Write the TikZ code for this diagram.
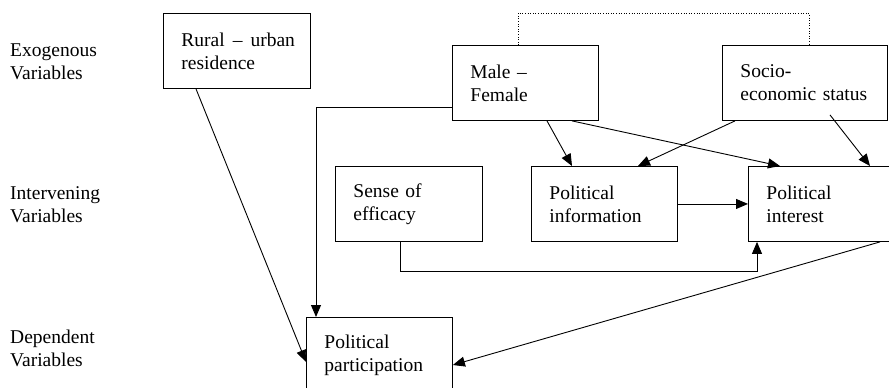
\documentclass[tikz,border=0pt]{standalone}
\usepackage{fontspec}
\setmainfont{Liberation Serif}
\usepackage{tikz}
\usetikzlibrary{calc,arrows.meta}
\tikzstyle{varbox} = [draw, line width=0.9pt, rectangle, anchor=north west, inner xsep=18pt, inner ysep=0pt, minimum height=75pt, align=left, font=\fontsize{19.5}{23}\selectfont]
\tikzstyle{nivel} = [anchor=west, inner sep=0pt, align=left, font=\fontsize{19.5}{23}\selectfont]
\tikzstyle{flecha} = [line width=0.9pt, -{Triangle[length=12pt,width=10pt]}]

\begin{document}
\begin{tikzpicture}[x=1pt,y=-1pt]
		\useasboundingbox (0,0) rectangle (889,388);
		\clip (0,0) rectangle (889,388);
		\node[nivel](exo) at (10,62) {Exogenous\\Variables};
		\node[nivel](inter) at (10,205) {Intervening\\Variables};
		\node[nivel](dep) at (10,348) {Dependent\\Variables};
		\node[varbox, text width=111pt](rural) at (163,13) {\mbox{Rural\hspace{8pt}--\hspace{8pt}urban}\\residence};
		\node[varbox, text width=110pt](male) at (452,45) {Male --\\Female};
		\node[varbox, text width=129pt](socio) at (722,45) {Socio-\\economic status};
		\node[varbox, text width=111pt](sense) at (335,166) {Sense of\\efficacy};
		\node[varbox, text width=110pt](info) at (531,166) {Political\\information};
		\node[varbox, text width=124pt](interest) at (748,166) {Political\\interest};
		\node[varbox, text width=110pt](partic) at (306,317) {Political\\participation};
		% correlacion
		\draw[dotted, line width=0.6pt] ($(male.north west)+(66,0)$) -- ++(0,-32) -| ($(socio.north west)+(87,0)$);
		\draw[flecha] ($(rural.south west)+(33,0)$) -- ($(partic.north west)+(0,45)$);
		\draw[flecha] ($(male.south west)+(0,-13)$) -| ($(partic.north west)+(10,0)$);
		\draw[flecha] ($(male.south west)+(95,0)$) -- ($(info.north west)+(41,0)$);
		\draw[flecha] ($(male.south west)+(120,0)$) -- ($(interest.north west)+(32,0)$);
		\draw[flecha] ($(socio.south west)+(13,0)$) -- ($(info.north west)+(107,0)$);
		\draw[flecha] ($(socio.south west)+(108,-6)$) -- ($(interest.north west)+(122,0)$);
		\draw[flecha] (info.east) -- (interest.west);
		\draw[flecha] ($(sense.south west)+(65,0)$) -- ++(0,30) -| ($(interest.south west)+(9,0)$);
		\draw[flecha] ($(interest.south west)+(132,0)$) -- ($(partic.north east)+(0,48)$);
	\end{tikzpicture}
\end{document}
